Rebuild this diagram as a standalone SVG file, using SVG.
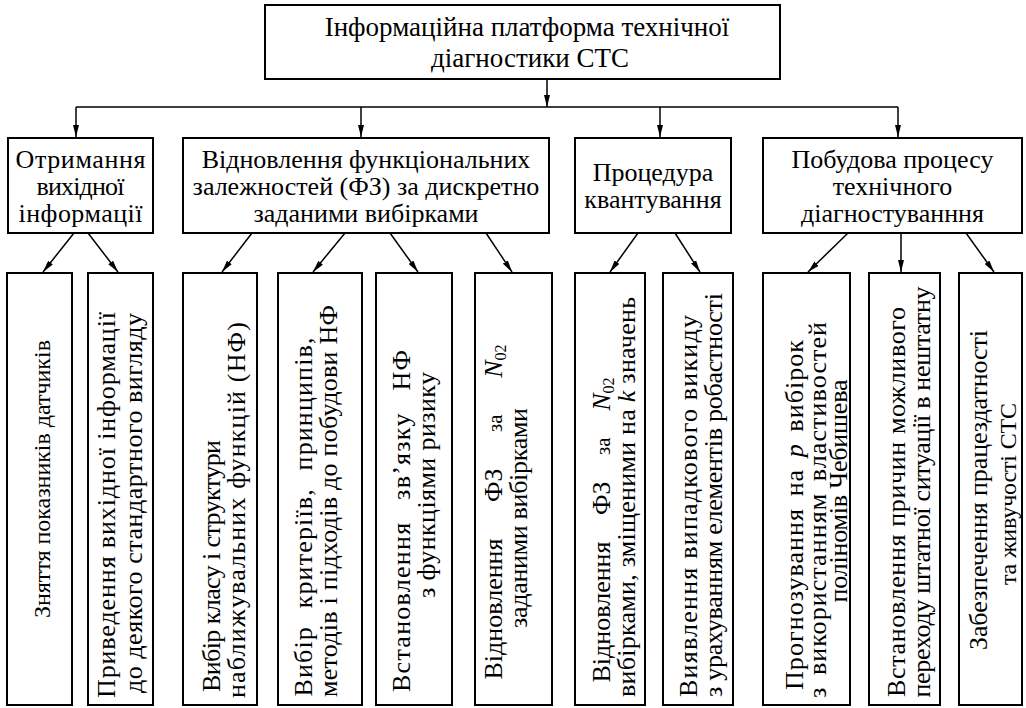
<svg xmlns="http://www.w3.org/2000/svg" width="1026" height="708" viewBox="0 0 1026 708">
<style>
.box{fill:#fff;stroke:#000;stroke-width:2}
text{font-family:"Liberation Serif","Times New Roman",serif;fill:#000;text-anchor:middle}
.t1{font-size:27px}
.t2{font-size:26px}
.t3{font-size:26px}
.t4{font-size:24px}
.sm{font-size:21px}
.c{stroke:#000;stroke-width:1.5;fill:none}
.a{marker-end:url(#ah)}
</style>
<defs>
<marker id="ah" viewBox="0 0 12 6" refX="12" refY="3" markerWidth="12" markerHeight="6" markerUnits="userSpaceOnUse" orient="auto">
<path d="M0,0 L12,3 L0,6 z" fill="#000"/>
</marker>
</defs>
<rect width="1026" height="708" fill="#fff"/>

<g id="connectors">
<line class="c a" x1="547" y1="79" x2="547" y2="107"/>
<line class="c" x1="76" y1="107" x2="898" y2="107"/>
<line class="c a" x1="76" y1="107" x2="76" y2="137"/>
<line class="c a" x1="361" y1="107" x2="361" y2="137"/>
<line class="c a" x1="660" y1="107" x2="660" y2="137"/>
<line class="c a" x1="898" y1="107" x2="898" y2="137"/>
<line class="c a" x1="74" y1="233" x2="43" y2="272"/>
<line class="c a" x1="88" y1="233" x2="118" y2="272"/>
<line class="c a" x1="252" y1="233" x2="222" y2="272"/>
<line class="c a" x1="345" y1="233" x2="313" y2="272"/>
<line class="c a" x1="390" y1="233" x2="418" y2="272"/>
<line class="c a" x1="486" y1="233" x2="512" y2="272"/>
<line class="c a" x1="638" y1="233" x2="610" y2="272"/>
<line class="c a" x1="675" y1="233" x2="700" y2="272"/>
<line class="c a" x1="848" y1="233" x2="808" y2="272"/>
<line class="c a" x1="901" y1="233" x2="901" y2="272"/>
<line class="c a" x1="966" y1="233" x2="994" y2="272"/>
</g>

<g id="root">
<rect class="box" x="265" y="5" width="515" height="74"/>
<text class="t1" x="527" y="36">Інформаційна платформа технічної</text>
<text class="t1" x="530" y="67">діагностики СТС</text>
</g>

<g id="n1">
<rect class="box" x="8" y="138" width="145" height="95"/>
<text class="t2" x="80.5" y="168" textLength="130">Отримання</text>
<text class="t2" x="80.5" y="195" textLength="88">вихідної</text>
<text class="t2" x="80.5" y="222" textLength="124">інформації</text>
</g>
<g id="n2">
<rect class="box" x="183" y="138" width="366" height="95"/>
<text class="t2" x="366" y="168">Відновлення функціональних</text>
<text class="t2" x="366" y="195">залежностей (ФЗ) за дискретно</text>
<text class="t2" x="366" y="222">заданими вибірками</text>
</g>
<g id="n3">
<rect class="box" x="575" y="138" width="156" height="95"/>
<text class="t2" x="653" y="181">Процедура</text>
<text class="t2" x="653" y="208">квантування</text>
</g>
<g id="n4">
<rect class="box" x="763" y="138" width="259" height="95"/>
<text class="t2" x="892.5" y="168">Побудова процесу</text>
<text class="t2" x="892.5" y="195">технічного</text>
<text class="t2" x="892.5" y="222">діагностуванння</text>
</g>

<g id="b1">
<rect class="box" x="7" y="273" width="65" height="432"/>
<text class="t4" transform="translate(50,479) rotate(-90)" textLength="278">Зняття показників датчиків</text>
</g>
<g id="b2">
<rect class="box" x="88" y="273" width="65" height="432"/>
<text class="t3" transform="translate(115,505) rotate(-90)" textLength="386">Приведення вихідної інформації</text>
<text class="t3" transform="translate(142,503) rotate(-90)" textLength="380">до деякого стандартного вигляду</text>
</g>
<g id="b3">
<rect class="box" x="183" y="273" width="74" height="432"/>
<text class="t3" transform="translate(220,566) rotate(-90)" textLength="252">Вибір класу і структури</text>
<text class="t3" transform="translate(245,510) rotate(-90)" textLength="376">наближувальних функцій (НФ)</text>
</g>
<g id="b4">
<rect class="box" x="278" y="273" width="84" height="432"/>
<text class="t3" transform="translate(312,517) rotate(-90)" style="word-spacing:10px" textLength="359">Вибір критеріїв, принципів,</text>
<text class="t3" transform="translate(337,501) rotate(-90)" textLength="392">методів і підходів до побудови НФ</text>
</g>
<g id="b5">
<rect class="box" x="376" y="273" width="76" height="432"/>
<text class="t3" transform="translate(410,521) rotate(-90)" style="word-spacing:14px" textLength="342">Встановлення зв’язку НФ</text>
<text class="t3" transform="translate(435,485) rotate(-90)" textLength="226">з функціями ризику</text>
</g>
<g id="b6">
<rect class="box" x="475" y="273" width="77" height="432"/>
<text class="t3" transform="translate(502,512) rotate(-90)" style="word-spacing:30px">Відновлення ФЗ <tspan class="sm">за</tspan> <tspan font-style="italic">N</tspan><tspan font-size="16" dy="4">02</tspan></text>
<text class="t3" transform="translate(527,518) rotate(-90)" textLength="220">заданими вибірками</text>
</g>
<g id="b7">
<rect class="box" x="575" y="273" width="70" height="432"/>
<text class="t3" transform="translate(610,530) rotate(-90)" style="word-spacing:20px">Відновлення ФЗ <tspan class="sm">за</tspan> <tspan font-style="italic">N</tspan><tspan font-size="16" dy="4">02</tspan></text>
<text class="t3" transform="translate(635,497) rotate(-90)" textLength="400">вибірками, зміщеними на <tspan font-style="italic">k</tspan> значень</text>
</g>
<g id="b8">
<rect class="box" x="663" y="273" width="70" height="432"/>
<text class="t3" transform="translate(697,506) rotate(-90)" textLength="382">Виявлення випадкового викиду</text>
<text class="t3" transform="translate(722,495) rotate(-90)" textLength="404">з урахуванням елементів робастності</text>
</g>
<g id="b9">
<rect class="box" x="763" y="273" width="87" height="432"/>
<text class="t3" transform="translate(803,515) rotate(-90)" style="word-spacing:4px" textLength="350">Прогнозування на <tspan font-style="italic">p</tspan> вибірок</text>
<text class="t3" transform="translate(826,510) rotate(-90)" style="word-spacing:4px" textLength="376">з використанням властивостей</text>
<text class="t3" transform="translate(847,491) rotate(-90)" textLength="223">поліномів Чебишева</text>
</g>
<g id="b10">
<rect class="box" x="869" y="273" width="71" height="432"/>
<text class="t3" transform="translate(905,502) rotate(-90)" textLength="390">Встановлення причин можливого</text>
<text class="t3" transform="translate(930,492) rotate(-90)" textLength="411">переходу штатної ситуації в нештатну</text>
</g>
<g id="b11">
<rect class="box" x="959" y="273" width="63" height="432"/>
<text class="t3" transform="translate(987,490) rotate(-90)" textLength="320">Забезпечення працездатності</text>
<text class="t4" transform="translate(1016,494) rotate(-90)" textLength="182">та живучості СТС</text>
</g>
</svg>
